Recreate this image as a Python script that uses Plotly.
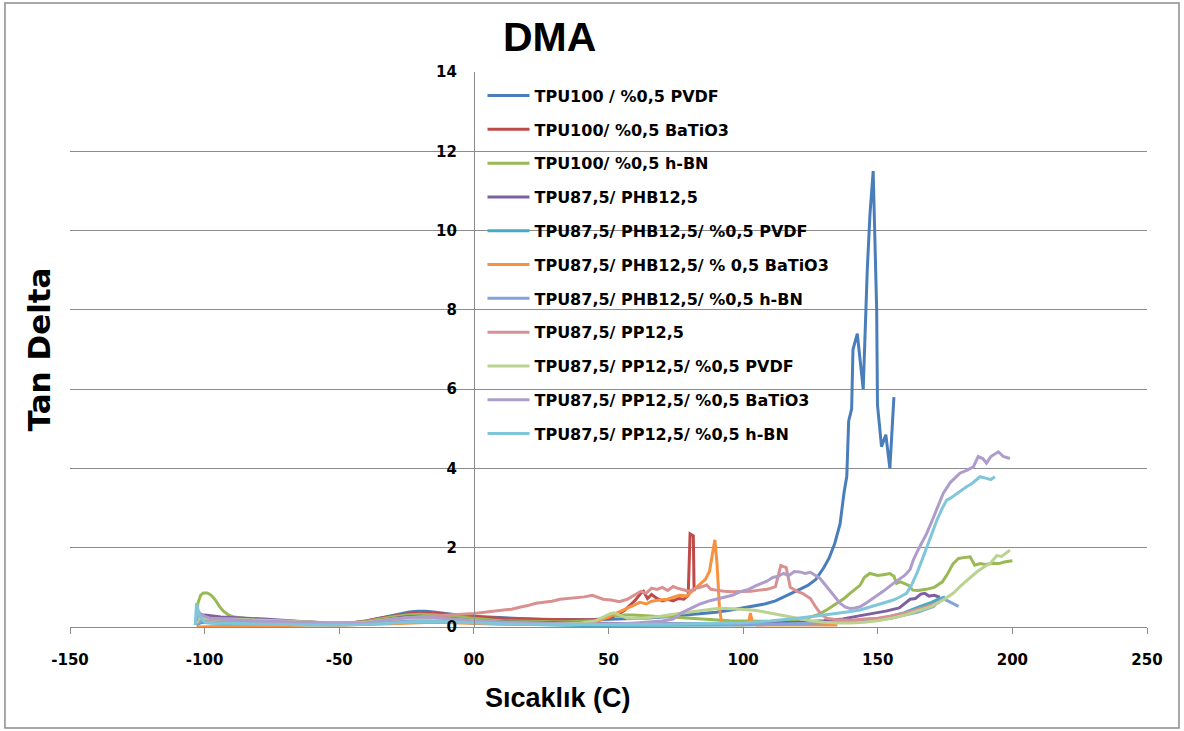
import plotly.graph_objects as go

# Tan delta vs temperature, one (temperature, tan delta) list per sample
tpu100_pvdf = [(-103, 0.05), (-102, 0.22), (-100, 0.2), (-95, 0.2), (-90, 0.18), (-85, 0.17), (-80, 0.16),
               (-75, 0.14), (-70, 0.13), (-65, 0.12), (-60, 0.11), (-55, 0.1), (-50, 0.1), (-45, 0.11),
               (-40, 0.15), (-35, 0.22), (-30, 0.3), (-27, 0.35), (-24, 0.38), (-21, 0.4), (-18, 0.4),
               (-15, 0.38), (-12, 0.35), (-9, 0.32), (-6, 0.3), (-3, 0.28), (0, 0.27), (5, 0.25), (10, 0.23),
               (15, 0.21), (20, 0.2), (25, 0.19), (30, 0.19), (35, 0.18), (40, 0.18), (45, 0.18), (50, 0.19),
               (55, 0.2), (60, 0.22), (65, 0.23), (70, 0.25), (75, 0.28), (80, 0.31), (85, 0.33), (90, 0.37),
               (95, 0.42), (100, 0.48), (104, 0.52), (108, 0.58), (112, 0.66), (115, 0.75), (118, 0.85),
               (121, 0.95), (124, 1.05), (127, 1.2), (130, 1.5), (132, 1.75), (134, 2.1), (136, 2.6),
               (137.5, 3.4), (138.5, 3.8), (139.2, 5.2), (140.3, 5.5), (140.8, 7.0), (142.4, 7.4), (144.6, 6.0),
               (146.1, 9.0), (147.1, 10.4), (148.3, 11.5), (149.6, 8.0), (149.9, 5.6), (151.4, 4.55),
               (153.0, 4.85), (154.5, 4.0), (156.0, 5.8)]

tpu100_batio3 = [(-103, 0.15), (-101, 0.22), (-98, 0.22), (-95, 0.2), (-90, 0.18), (-85, 0.16), (-80, 0.15),
                 (-75, 0.14), (-70, 0.13), (-65, 0.12), (-60, 0.11), (-55, 0.1), (-50, 0.1), (-45, 0.11),
                 (-40, 0.15), (-35, 0.22), (-30, 0.28), (-25, 0.33), (-20, 0.36), (-15, 0.35), (-10, 0.32),
                 (-5, 0.29), (0, 0.27), (5, 0.24), (10, 0.22), (15, 0.2), (20, 0.2), (25, 0.19), (30, 0.18),
                 (35, 0.18), (40, 0.18), (45, 0.19), (50, 0.22), (53, 0.3), (56, 0.42), (58, 0.55), (60, 0.68),
                 (62, 0.85), (63, 0.9), (64.5, 0.72), (66, 0.82), (68, 0.72), (70, 0.66), (72, 0.7), (74, 0.66),
                 (76, 0.72), (78, 0.7), (79.6, 0.8), (80.3, 2.35), (81.5, 2.3), (81.8, 0.9)]

tpu100_hbn = [(-103, 0.2), (-102.5, 0.6), (-101.5, 0.8), (-100.5, 0.86), (-99, 0.86), (-97.5, 0.8), (-96, 0.68),
              (-94.5, 0.52), (-93, 0.4), (-91, 0.3), (-89, 0.25), (-86, 0.22), (-83, 0.2), (-80, 0.19),
              (-75, 0.17), (-70, 0.15), (-65, 0.14), (-60, 0.12), (-55, 0.11), (-50, 0.1), (-45, 0.11),
              (-40, 0.14), (-35, 0.2), (-30, 0.26), (-25, 0.3), (-20, 0.32), (-15, 0.31), (-10, 0.28),
              (-5, 0.24), (0, 0.21), (5, 0.18), (10, 0.16), (15, 0.15), (20, 0.14), (25, 0.13), (30, 0.13),
              (35, 0.13), (40, 0.14), (45, 0.16), (48, 0.2), (50.7, 0.33), (53, 0.28), (56, 0.3), (59, 0.3),
              (63, 0.28), (67, 0.27), (71.6, 0.26), (76, 0.24), (80, 0.22), (85, 0.2), (90, 0.18), (95, 0.16),
              (100, 0.15), (105, 0.14), (110, 0.14), (115, 0.15), (120, 0.18), (125, 0.25), (128, 0.32),
              (131, 0.43), (135, 0.6), (137.5, 0.72), (139.7, 0.85), (141.5, 0.95), (143.4, 1.05), (145, 1.25),
              (147, 1.35), (148.3, 1.33), (150, 1.3), (152, 1.32), (154.5, 1.35), (156, 1.28), (157, 1.1),
              (158.5, 1.14), (160, 1.1), (161.5, 1.05), (163, 0.93), (165, 0.92), (168, 0.95), (171, 1.0),
              (174, 1.14), (176, 1.35), (178, 1.6), (180, 1.73), (182, 1.75), (184.3, 1.77), (186, 1.56),
              (188, 1.6), (190, 1.58), (192.8, 1.61), (195, 1.6), (197, 1.64), (200, 1.67)]

tpu875_phb = [(-103, 0.1), (-102, 0.32), (-100, 0.3), (-97, 0.27), (-94, 0.25), (-90, 0.24), (-86, 0.23),
              (-82, 0.22), (-78, 0.2), (-74, 0.18), (-70, 0.16), (-65, 0.14), (-60, 0.12), (-55, 0.11),
              (-50, 0.1), (-45, 0.1), (-40, 0.12), (-35, 0.17), (-30, 0.22), (-25, 0.26), (-20, 0.27),
              (-15, 0.25), (-10, 0.22), (-5, 0.19), (0, 0.16), (10, 0.13), (20, 0.12), (30, 0.1), (40, 0.09),
              (50, 0.09), (60, 0.08), (70, 0.08), (80, 0.08), (90, 0.08), (100, 0.09), (110, 0.1), (120, 0.12),
              (130, 0.16), (137, 0.2), (143, 0.28), (148, 0.34), (153, 0.4), (158, 0.48), (160, 0.58),
              (162, 0.7), (164, 0.72), (166, 0.83), (167.5, 0.85), (169, 0.78), (171, 0.8), (173, 0.75)]

tpu875_phb_pvdf = [(-103, 0.05), (-101, 0.12), (-98, 0.1), (-90, 0.08), (-80, 0.07), (-70, 0.06), (-60, 0.05),
                   (-50, 0.05), (-40, 0.07), (-30, 0.12), (-20, 0.16), (-10, 0.14), (0, 0.1), (10, 0.08),
                   (20, 0.06), (30, 0.05), (40, 0.04), (50, 0.04), (60, 0.04), (70, 0.04), (80, 0.04), (90, 0.05),
                   (100, 0.05), (110, 0.06), (120, 0.08), (130, 0.1), (140, 0.14), (150, 0.2), (155, 0.27),
                   (160, 0.36), (165, 0.5), (170, 0.62), (173, 0.72), (175, 0.75)]

tpu875_phb_batio3 = [(-103, 0.0), (-100, 0.01), (-95, 0.01), (-90, 0.01), (-85, 0.01), (-80, 0.02), (-75, 0.03),
                     (-70, 0.04), (-60, 0.05), (-50, 0.05), (-40, 0.06), (-30, 0.08), (-23, 0.1), (-15, 0.12),
                     (-8, 0.11), (0, 0.09), (10, 0.07), (20, 0.06), (30, 0.06), (40, 0.08), (45, 0.12), (47, 0.18),
                     (50, 0.25), (53, 0.35), (56, 0.45), (59, 0.55), (61.7, 0.62), (64, 0.58), (66, 0.65),
                     (69, 0.68), (72, 0.7), (74, 0.75), (76.5, 0.8), (79, 0.78), (81, 0.9), (84, 1.06), (86, 1.2),
                     (87.5, 1.4), (88.7, 1.9), (89.5, 2.2), (90.3, 1.6), (91.2, 0.5), (92, 0.1), (95, 0.06),
                     (100, 0.05), (102, 0.1), (102.7, 0.35), (103.5, 0.1), (105, 0.05), (115, 0.05), (125, 0.05),
                     (135, 0.05)]

tpu875_phb_hbn = [(-103, 0.05), (-101, 0.18), (-98, 0.15), (-90, 0.12), (-80, 0.1), (-70, 0.08), (-60, 0.07),
                  (-50, 0.06), (-40, 0.08), (-30, 0.13), (-20, 0.17), (-10, 0.15), (0, 0.12), (10, 0.1),
                  (20, 0.08), (30, 0.07), (40, 0.06), (50, 0.06), (60, 0.06), (70, 0.06), (80, 0.06), (90, 0.06),
                  (100, 0.07), (110, 0.07), (120, 0.08), (130, 0.1), (140, 0.13), (150, 0.18), (155, 0.22),
                  (160, 0.3), (165, 0.38), (168, 0.45), (170.6, 0.51), (172, 0.6), (174, 0.72), (176, 0.66),
                  (178, 0.58), (180, 0.52)]

tpu875_pp = [(-103, 0.1), (-102, 0.25), (-100, 0.2), (-95, 0.18), (-90, 0.17), (-85, 0.16), (-80, 0.15),
             (-70, 0.13), (-60, 0.11), (-50, 0.1), (-45, 0.1), (-40, 0.12), (-35, 0.16), (-30, 0.2), (-25, 0.23),
             (-20, 0.26), (-15, 0.28), (-10, 0.3), (-5, 0.31), (0, 0.34), (4, 0.37), (8, 0.4), (11, 0.44),
             (14, 0.45), (17, 0.5), (20, 0.54), (23, 0.6), (26, 0.62), (29, 0.65), (32, 0.7), (35, 0.72),
             (38, 0.74), (41, 0.76), (44, 0.8), (46, 0.75), (48, 0.7), (51, 0.68), (54, 0.64), (57, 0.7),
             (60, 0.82), (62, 0.9), (64, 0.85), (66, 0.98), (68, 0.95), (70, 1.0), (72, 0.92), (74, 1.02),
             (76, 0.97), (78, 0.93), (80, 0.9), (82, 0.97), (84, 1.0), (86.5, 1.06), (88, 0.95), (90, 0.93),
             (93, 0.9), (96, 0.89), (100, 0.9), (103, 0.9), (106, 0.93), (109, 0.95), (112, 1.02), (114, 1.55),
             (116, 1.5), (117.5, 1.0), (120, 0.9), (122, 0.85), (125, 0.72), (127, 0.5), (129, 0.32), (131, 0.22),
             (135, 0.18), (140, 0.17), (145, 0.2), (150, 0.22), (155, 0.28), (160, 0.35), (165, 0.45),
             (170, 0.55), (173, 0.62)]

tpu875_pp_pvdf = [(-103, 0.1), (-102, 0.22), (-100, 0.22), (-95, 0.2), (-90, 0.2), (-85, 0.19), (-80, 0.18),
                  (-70, 0.15), (-60, 0.12), (-50, 0.1), (-45, 0.1), (-40, 0.12), (-35, 0.16), (-30, 0.2),
                  (-25, 0.22), (-20, 0.23), (-10, 0.2), (0, 0.16), (10, 0.12), (20, 0.1), (30, 0.09), (40, 0.1),
                  (45, 0.15), (48, 0.25), (50, 0.32), (52, 0.36), (54, 0.3), (57, 0.22), (62, 0.22), (68, 0.26),
                  (74, 0.32), (80, 0.37), (86, 0.42), (91, 0.47), (96, 0.46), (100, 0.44), (104, 0.42),
                  (108, 0.38), (112, 0.33), (116, 0.27), (120, 0.22), (125, 0.16), (130, 0.12), (135, 0.1),
                  (140, 0.1), (145, 0.12), (150, 0.16), (155, 0.22), (160, 0.3), (165, 0.4), (170, 0.52),
                  (174.3, 0.68), (178, 0.85), (181, 1.05), (184.3, 1.23), (187, 1.4), (190.4, 1.56), (192, 1.62),
                  (194.2, 1.8), (196, 1.78), (199.1, 1.94)]

tpu875_pp_batio3 = [(-103, 0.15), (-102.5, 0.4), (-101, 0.3), (-98, 0.22), (-94, 0.2), (-90, 0.18), (-85, 0.17),
                    (-80, 0.15), (-70, 0.13), (-60, 0.11), (-50, 0.09), (-45, 0.09), (-40, 0.11), (-35, 0.15),
                    (-30, 0.2), (-25, 0.24), (-20, 0.25), (-15, 0.24), (-10, 0.21), (-5, 0.18), (0, 0.15),
                    (10, 0.12), (20, 0.1), (30, 0.08), (40, 0.07), (50, 0.08), (55, 0.08), (60, 0.1), (65, 0.12),
                    (70, 0.15), (74, 0.2), (77, 0.35), (80, 0.45), (84, 0.58), (88, 0.67), (92, 0.74), (96, 0.8),
                    (99, 0.89), (102, 0.95), (105, 1.05), (108.7, 1.15), (111, 1.25), (113, 1.28), (115, 1.35),
                    (117, 1.3), (119, 1.4), (121, 1.39), (123, 1.35), (125, 1.38), (128.5, 1.23), (130, 1.1),
                    (132.2, 0.93), (134, 0.75), (136, 0.6), (138, 0.5), (139.7, 0.47), (141.5, 0.48),
                    (143.4, 0.51), (146, 0.62), (149, 0.75), (152, 0.9), (155.8, 1.1), (158, 1.2), (160, 1.3),
                    (162, 1.45), (163.2, 1.69), (165, 1.95), (166.9, 2.19), (168.2, 2.36), (170, 2.65),
                    (172, 3.0), (174.3, 3.37), (177, 3.65), (180.5, 3.88), (183, 3.95), (185.5, 4.04),
                    (187.3, 4.3), (189, 4.25), (190.4, 4.13), (192, 4.3), (194.8, 4.42), (196.6, 4.3),
                    (199.1, 4.25)]

tpu875_pp_hbn = [(-103.5, 0.05), (-103, 0.6), (-102, 0.3), (-100, 0.12), (-95, 0.1), (-90, 0.09), (-80, 0.08),
                 (-70, 0.06), (-60, 0.05), (-50, 0.05), (-40, 0.06), (-30, 0.1), (-20, 0.14), (-10, 0.13),
                 (0, 0.1), (10, 0.08), (20, 0.07), (30, 0.06), (40, 0.06), (50, 0.06), (60, 0.06), (70, 0.07),
                 (80, 0.08), (90, 0.09), (100, 0.11), (110, 0.15), (115, 0.18), (120, 0.22), (125, 0.26),
                 (130, 0.3), (135, 0.34), (140, 0.39), (143.4, 0.43), (148, 0.52), (152, 0.6), (155.8, 0.68),
                 (158, 0.75), (160.7, 0.85), (162.5, 1.05), (164.5, 1.35), (166.5, 1.7), (168.2, 2.0), (170, 2.3),
                 (172, 2.7), (174, 3.0), (175.6, 3.2), (177, 3.25), (179.3, 3.37), (181, 3.45), (183, 3.54),
                 (185, 3.62), (188, 3.79), (190.4, 3.75), (192, 3.72), (193.5, 3.79)]

series_names = [
    "TPU100 / %0,5 PVDF",
    "TPU100/ %0,5 BaTiO3",
    "TPU100/ %0,5 h-BN",
    "TPU87,5/ PHB12,5",
    "TPU87,5/ PHB12,5/ %0,5 PVDF",
    "TPU87,5/ PHB12,5/ % 0,5 BaTiO3",
    "TPU87,5/ PHB12,5/ %0,5 h-BN",
    "TPU87,5/ PP12,5",
    "TPU87,5/ PP12,5/ %0,5 PVDF",
    "TPU87,5/ PP12,5/ %0,5 BaTiO3",
    "TPU87,5/ PP12,5/ %0,5 h-BN",
]
series_data = [tpu100_pvdf, tpu100_batio3, tpu100_hbn, tpu875_phb, tpu875_phb_pvdf, tpu875_phb_batio3,
               tpu875_phb_hbn, tpu875_pp, tpu875_pp_pvdf, tpu875_pp_batio3, tpu875_pp_hbn]
series_colors = ["#4A7EBB", "#BE4B48", "#98B954", "#7D60A0", "#46AAC5", "#F69240",
                 "#86A2D6", "#D9908E", "#BBD391", "#AE9DCB", "#80C6DA"]

x_tick_vals = [-150, -100, -50, 0, 50, 100, 150, 200, 250]
x_tick_text = ["-150", "-100", "-50", "00", "50", "100", "150", "200", "250"]

tick_font = dict(family="DejaVu Sans", size=15, color="black", weight="bold")
grid = "#8C8C8C"

fig = go.Figure()
for i, (name, pts, col) in enumerate(zip(series_names, series_data, series_colors)):
    xs = [p[0] for p in pts]
    ys = [p[1] for p in pts]
    fig.add_trace(go.Scatter(x=xs, y=ys, mode="lines", name=name, legendgroup=f"g{i}",
                             line=dict(color=col, width=3)))

fig.update_layout(
    width=1184, height=731,
    margin=dict(l=70, r=37, t=72, b=104),
    paper_bgcolor="white", plot_bgcolor="white",
    legend=dict(x=0.383, y=0.988, xanchor="left", yanchor="top", traceorder="grouped",
                tracegroupgap=10, bgcolor="rgba(0,0,0,0)", itemwidth=42,
                font=dict(family="DejaVu Sans", size=16, color="black", weight="bold")),
    xaxis=dict(range=[-150, 250], tickmode="array", tickvals=x_tick_vals, ticktext=x_tick_text,
               ticks="outside", ticklen=6, tickcolor=grid, showline=True, linecolor=grid, linewidth=1,
               showgrid=False, zeroline=False, tickfont=tick_font, ticklabelstandoff=13),
    yaxis=dict(range=[0, 14], dtick=2, anchor="free", position=150 / 400, showline=True, linecolor=grid,
               linewidth=1, showgrid=True, gridcolor=grid, gridwidth=1, zeroline=False, ticks="",
               tickfont=tick_font, ticklabelstandoff=14),
    annotations=[
        dict(text="DMA", x=0.445, y=1.063, xref="paper", yref="paper", showarrow=False,
             xanchor="center", yanchor="middle",
             font=dict(family="Liberation Sans", size=41, color="black", weight="bold")),
        dict(text="Tan Delta", x=-0.0297, y=0.5, xref="paper", yref="paper", showarrow=False, textangle=-90,
             xanchor="center", yanchor="middle",
             font=dict(family="DejaVu Sans", size=31, color="black", weight="bold")),
        dict(text="Sıcaklık (C)", x=0.453, y=-0.128, xref="paper", yref="paper", showarrow=False,
             xanchor="center", yanchor="middle",
             font=dict(family="Liberation Sans", size=27, color="black", weight="bold")),
    ],
    shapes=[dict(type="rect", xref="paper", yref="paper", x0=-0.0604, x1=1.0297, y0=-0.182, y1=1.1243,
                 line=dict(color="#8C8C8C", width=1.5), layer="above")],
)

fig.write_html("out.html")
